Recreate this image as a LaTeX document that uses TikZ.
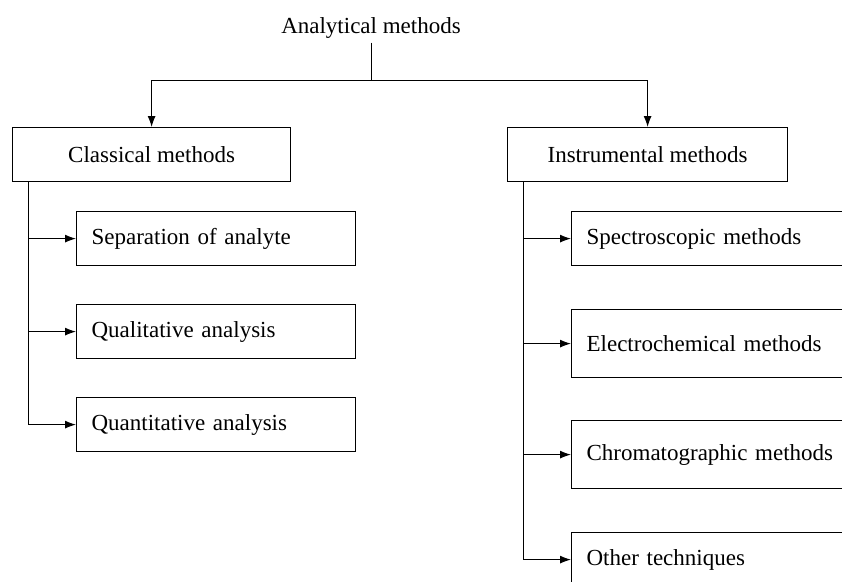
\documentclass[tikz,border=0pt]{standalone}
\usepackage{fontspec}
\setmainfont{Liberation Serif}
\usepackage{tikz}
\usetikzlibrary{arrows.meta}

\begin{document}
\begin{tikzpicture}[x=1pt,y=-1pt,>={Latex[length=11pt,width=8pt]},
  font=\fontsize{23}{27}\selectfont,
  link/.style={line width=1pt},
  mainbox/.style={draw,line width=1.2pt,rectangle,anchor=north west,minimum height=54pt,align=center,inner sep=0pt},
  subbox/.style={draw,line width=1.2pt,rectangle,anchor=north west,align=left,inner xsep=15pt,inner ysep=0pt}]
\useasboundingbox (0,0) rectangle (842,581);
\clip (0,0) rectangle (842,581);
\node[inner sep=4pt] (title) at (371,28) {Analytical methods};
\node[mainbox,minimum width=278pt] (classic) at (12,127) {Classical methods};
\node[mainbox,minimum width=280pt] (instr) at (507,127) {Instrumental methods};
\node[subbox,text width=249pt,minimum height=54pt] (sep) at (76,211) {Separation of analyte};
\node[subbox,text width=249pt,minimum height=54pt] (qual) at (76,304) {Qualitative analysis};
\node[subbox,text width=249pt,minimum height=54pt] (quant) at (76,397) {Quantitative analysis};
\node[subbox,text width=259pt,minimum height=54pt] (spec) at (571,211) {Spectroscopic methods};
\node[subbox,text width=259pt,minimum height=68pt] (elec) at (571,309) {Electrochemical methods};
\node[subbox,text width=259pt,minimum height=68pt] (chrom) at (571,420) {Chromatographic methods};
\node[subbox,text width=259pt,minimum height=54pt] (other) at (571,532) {Other techniques};
% split under the title
\coordinate (split) at (title.south |- 0,80);
\coordinate (ctrunk) at ([xshift=16pt]classic.south west);
\coordinate (itrunk) at ([xshift=16pt]instr.south west);
\draw[link] (title.south) -- (split);
\draw[link,->] (split) -| (classic.north);
\draw[link,->] (split) -| (instr.north);
% classical branch
\draw[link,->] (ctrunk) |- (quant.west);
\draw[link,->] (ctrunk |- sep.west) -- (sep.west);
\draw[link,->] (ctrunk |- qual.west) -- (qual.west);
% instrumental branch
\draw[link,->] (itrunk) |- (other.west);
\draw[link,->] (itrunk |- spec.west) -- (spec.west);
\draw[link,->] (itrunk |- elec.west) -- (elec.west);
\draw[link,->] (itrunk |- chrom.west) -- (chrom.west);
\end{tikzpicture}
\end{document}
